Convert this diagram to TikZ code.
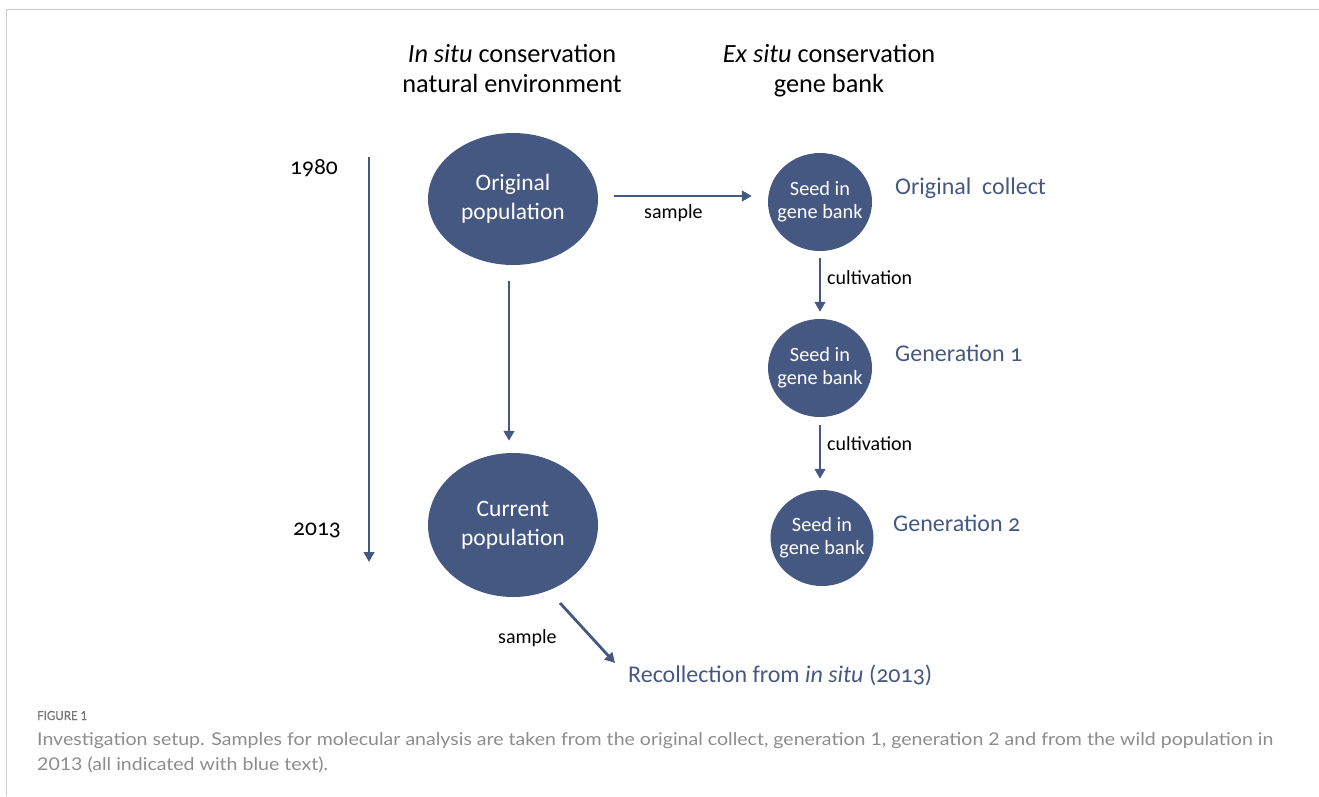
\documentclass[tikz,border=0pt]{standalone}
\usepackage{fontspec}
\setmainfont{Carlito}[Numbers=OldStyle]
\newfontfamily\capfont{Lato}[FakeStretch=1.11]
\newfontfamily\figfont{Lato}[FakeBold=0.6, FakeStretch=0.92]
\usetikzlibrary{arrows.meta,calc,shapes.geometric}
\definecolor{slate}{RGB}{69,88,130}
\definecolor{framegray}{RGB}{204,204,204}
\definecolor{capgray}{RGB}{140,140,140}
\definecolor{labgray}{RGB}{118,118,118}

\begin{document}
\begin{tikzpicture}[x=1pt,y=-1pt,
  blob/.style={ellipse, fill=slate, text=white, inner sep=0pt, align=center,
    font=\fontsize{23.5}{29}\selectfont},
  seedbox/.style={ellipse, fill=slate, text=white, inner xsep=-25pt, inner ysep=0pt,
    align=center, minimum width=104pt, minimum height=98pt,
    font=\fontsize{20.3}{23}\selectfont},
  lab/.style={anchor=base west, inner sep=0pt},
  head/.style={anchor=base, inner sep=0pt, font=\fontsize{26.3}{30}\selectfont},
  year/.style={anchor=base west, inner sep=0pt, font=\fontsize{23.5}{26}\selectfont},
  small/.style={lab, font=\fontsize{20}{22}\selectfont},
  bluelab/.style={lab, text=slate, font=\fontsize{24}{28}\selectfont},
  caption/.style={lab, text=capgray, font=\capfont\fontsize{17.6}{22}\selectfont},
  arr/.style={draw=slate, line width=2.8pt, -{Triangle[length=10pt,width=10.5pt]}}]

% page area and frame
\useasboundingbox (0,0) rectangle (1319,796);
\draw[framegray, line width=1pt] (6.5,796) -- (6.5,9.5) -- (1319,9.5);

% column headings
\node[head] (hin1) at (512,62) {\textit{In situ} conservation};
\node[head] (hin2) at (512,92) {natural environment};
\node[head] (hex1) at (829,62) {\textit{Ex situ} conservation};
\node[head] (hex2) at (829,92) {gene bank};

% time axis
\node[year] (y1980) at (290,174) {1980};
\node[year] (y2013) at (293,535) {2013};
\coordinate (tTop) at (369,157);
\coordinate (tBot) at (369,562);
\draw[arr] (tTop) -- (tBot);

% populations in the natural environment
\node[blob, minimum width=170pt, minimum height=132pt] (orig) at (513,199) {Original\\population};
\node[blob, minimum width=170pt, minimum height=144pt] (curr) at (513,525) {Current\\population};

% seeds kept in the gene bank
\node[seedbox] (seed1) at (820,202) {Seed in\\gene bank};
\node[seedbox] (seed2) at (820,368) {Seed in\\gene bank};
\node[seedbox, minimum width=103pt, minimum height=96pt] (seed3) at (822,538) {Seed in\\gene bank};

% sample labels (blue)
\node[bluelab] (lOrig) at (895,194) {Original\ \ collect};
\node[bluelab] (lGen1) at (895,361) {Generation 1};
\node[bluelab] (lGen2) at (893,531) {Generation 2};
\node[bluelab] (lRecol) at (628,682) {Recollection from \textit{in situ} (2013)};

% connectors
\coordinate (row) at (0,196);
\draw[arr, shorten <=16pt, shorten >=16pt] (orig.east |- row) -- (seed1.west |- row);
\node[small] (sTop) at (644,218) {sample};

\draw[arr, shorten <=16pt, shorten >=12pt] ([xshift=-4pt]orig.south) -- ([xshift=-4pt]curr.north);

\draw[arr, shorten <=7pt, shorten >=7pt] (seed1.south) -- (seed2.north);
\node[small] (cult1) at (827,284) {cultivation};
\draw[arr, shorten <=8pt, shorten >=11pt] (seed2.south) -- (seed2.south |- seed3.north);
\node[small] (cult2) at (827,450) {cultivation};

\coordinate (dA) at (560,603);
\coordinate (dB) at (615,663);
\draw[arr] (dA) -- (dB);
\node[small] (sBot) at (498,643) {sample};

% figure caption
\node[lab, text=labgray, font=\figfont\fontsize{12.5}{15}\selectfont] (figno) at (37,720) {FIGURE 1};
\node[caption] (cap1) at (37,745) {Investigation setup. Samples for molecular analysis are taken from the original collect, generation 1, generation 2 and from the wild population in};
\node[caption] (cap2) at (37,770) {2013 (all indicated with blue text).};
\end{tikzpicture}
\end{document}
